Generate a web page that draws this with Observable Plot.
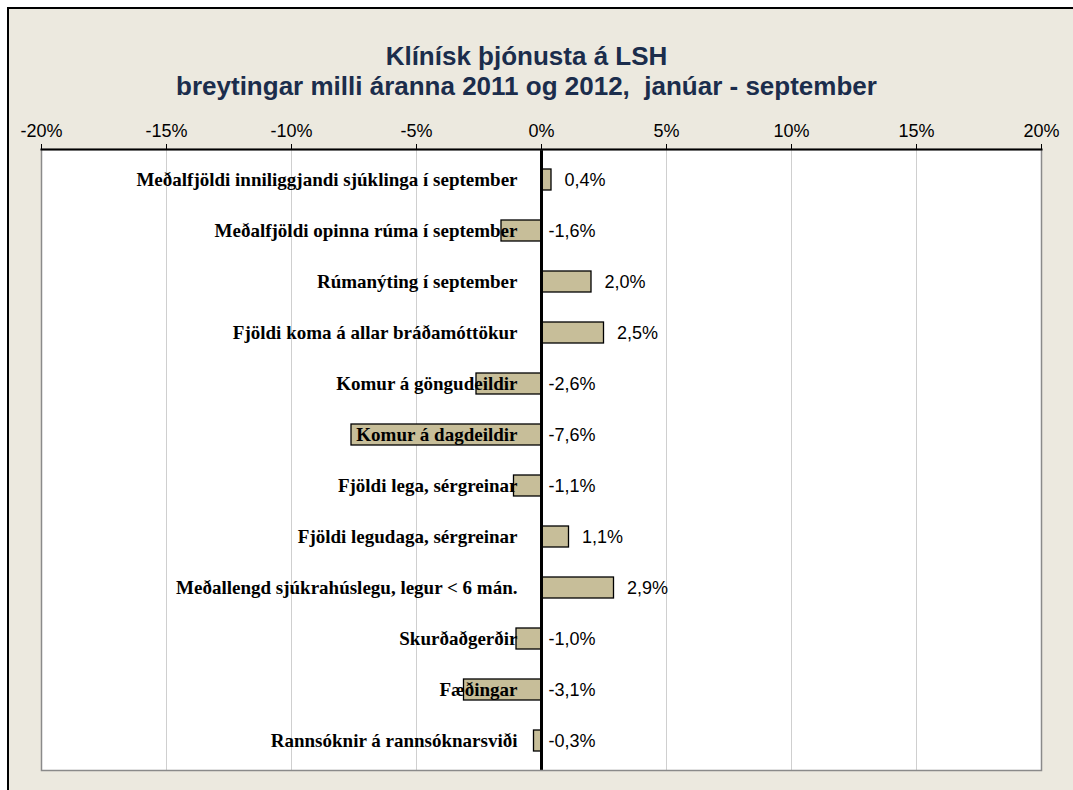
<!DOCTYPE html>
<html>
<head>
<meta charset="utf-8">
<script src="https://cdn.jsdelivr.net/npm/d3@7"></script>
<script src="https://cdn.jsdelivr.net/npm/@observablehq/plot@0.6"></script>
<style>
  html, body { margin: 0; padding: 0; background: #ffffff; width: 1073px; height: 790px; overflow: hidden; }
  #chart { position: absolute; left: 7px; top: 7px; width: 1100px; height: 820px; background: #ECE9DF;
           border-left: 2px solid #000; border-top: 2px solid #000; box-sizing: border-box; }
  #title { position: absolute; left: 0; top: 41px; width: 1053px; text-align: center;
           font-family: "Liberation Sans", Arial, sans-serif; font-weight: bold; font-size: 26px;
           line-height: 30px; color: #1B2D4C; white-space: pre; }
  #plot { position: absolute; left: 0; top: 0; }
</style>
</head>
<body>
<div id="chart"></div>
<div id="title">Klínísk þjónusta á LSH
breytingar milli áranna 2011 og 2012,  janúar - september</div>
<div id="plot"></div>
<script>
const categories = [
  "Meðalfjöldi inniliggjandi sjúklinga í september",
  "Meðalfjöldi opinna rúma í september",
  "Rúmanýting í september",
  "Fjöldi koma á allar bráðamóttökur",
  "Komur á göngudeildir",
  "Komur á dagdeildir",
  "Fjöldi lega, sérgreinar",
  "Fjöldi legudaga, sérgreinar",
  "Meðallengd sjúkrahúslegu, legur < 6 mán.",
  "Skurðaðgerðir",
  "Fæðingar",
  "Rannsóknir á rannsóknarsviði"
];
const values = [0.4, -1.6, 2.0, 2.5, -2.6, -7.6, -1.1, 1.1, 2.9, -1.0, -3.1, -0.3];
const tickValues = [-20, -15, -10, -5, 0, 5, 10, 15, 20];

const data = categories.map((c, i) => ({cat: c, value: values[i]}));
const fmt = v => v.toFixed(1).replace(".", ",") + "%";

const chart = Plot.plot({
  width: 1073,
  height: 790,
  marginTop: 149,
  marginBottom: 20,
  marginLeft: 41,
  marginRight: 32,
  style: {fontFamily: "'Liberation Sans', Arial, sans-serif", fontSize: "18px", background: "transparent", color: "#000", overflow: "visible"},
  x: {domain: [-20, 20], label: null},
  y: {domain: categories, paddingInner: 0.59, paddingOuter: 0.295, axis: null, label: null},
  marks: [
    Plot.frame({fill: "#ffffff"}),
    Plot.ruleX(tickValues.filter(d => d !== 0), {stroke: "#cfcfcf", strokeWidth: 1}),
    Plot.barX(data, {x: "value", y: "cat", fill: "#C7BE99", stroke: "#000", strokeWidth: 1.3}),
    Plot.text(data, {y: "cat", text: "cat", frameAnchor: "middle", dx: -24, textAnchor: "end",
      fontFamily: "'Liberation Serif', 'Times New Roman', serif", fontWeight: "bold", fontSize: 19, fill: "#000"}),
    Plot.ruleX([0], {stroke: "#000", strokeWidth: 3}),
    Plot.text(data.filter(d => d.value >= 0), {x: "value", y: "cat", text: d => fmt(d.value), textAnchor: "start", dx: 13, fill: "#000", fontSize: 18}),
    Plot.text(data.filter(d => d.value < 0), {x: () => 0, y: "cat", text: d => fmt(d.value), textAnchor: "start", dx: 7, fill: "#000", fontSize: 18}),
    Plot.frame({stroke: "#8a8a8a", strokeWidth: 1.5}),
    Plot.frame({anchor: "top", stroke: "#000", strokeWidth: 2}),
    Plot.axisX(tickValues, {anchor: "top", label: null, tickSize: 6, tickPadding: 7, tickFormat: d => d + "%", stroke: "#000", fill: "#000", fontSize: 18})
  ]
});
document.getElementById("plot").appendChild(chart);
</script>
</body>
</html>
